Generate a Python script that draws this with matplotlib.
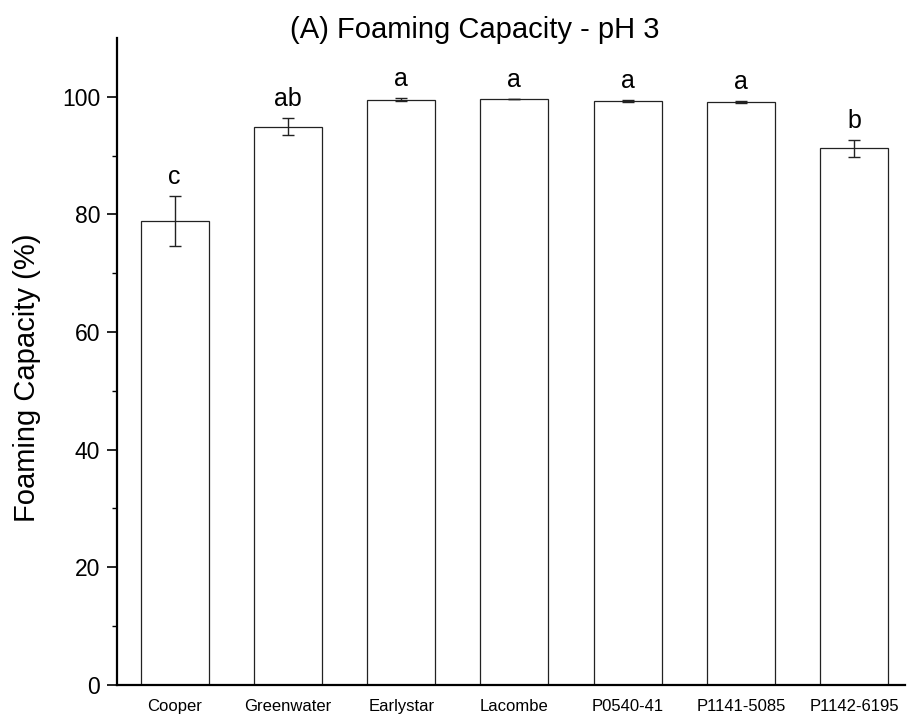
import matplotlib.pyplot as plt
import numpy as np

plt.rcParams['font.family'] = ['Liberation Sans', 'DejaVu Sans']

varieties = ["Cooper", "Greenwater", "Earlystar", "Lacombe", "P0540-41", "P1141-5085", "P1142-6195"]
fc = [78.9, 94.9, 99.5, 99.6, 99.3, 99.1, 91.2]
fc_err = [4.2, 1.4, 0.2, 0.05, 0.2, 0.1, 1.4]
letters = ["c", "ab", "a", "a", "a", "a", "b"]

fig = plt.figure(figsize=(9.09, 7.15), dpi=100)
ax = fig.add_axes([0.1287, 0.042, 0.867, 0.905])

x = np.arange(len(varieties))
ax.bar(x, fc, width=0.6, color='white', edgecolor='#222222', linewidth=0.9,
       yerr=fc_err, capsize=4, error_kw=dict(elinewidth=1.0, capthick=1.0, ecolor='#222222'))

for xi, v, e, lab in zip(x, fc, fc_err, letters):
    ax.text(xi, v + e + 1.2, lab, ha='center', va='bottom', fontsize=18)

ax.set_xlim(-0.51, 6.45)
ax.set_ylim(0, 110)
ax.set_yticks([0, 20, 40, 60, 80, 100])
ax.set_yticks(np.arange(10, 110, 20), minor=True)
ax.tick_params(axis='y', direction='out', length=7, width=1.2, labelsize=16.5, pad=5)
ax.tick_params(axis='y', which='minor', length=3.5, width=1.0)
ax.tick_params(axis='x', length=0, pad=10)
ax.set_xticks(x)
ax.set_xticklabels(varieties, fontsize=12)

ax.spines['top'].set_visible(False)
ax.spines['right'].set_visible(False)
ax.spines['left'].set_linewidth(1.6)
ax.spines['bottom'].set_linewidth(1.6)

fig.text(27 / 909, 1 - 378 / 715, "Foaming Capacity (%)", rotation=90,
         ha='center', va='center', fontsize=21)
fig.text(475 / 909, 1 - 30 / 715, "(A) Foaming Capacity - pH 3",
         ha='center', va='center', fontsize=21)

fig.savefig("out.png", dpi=100)
